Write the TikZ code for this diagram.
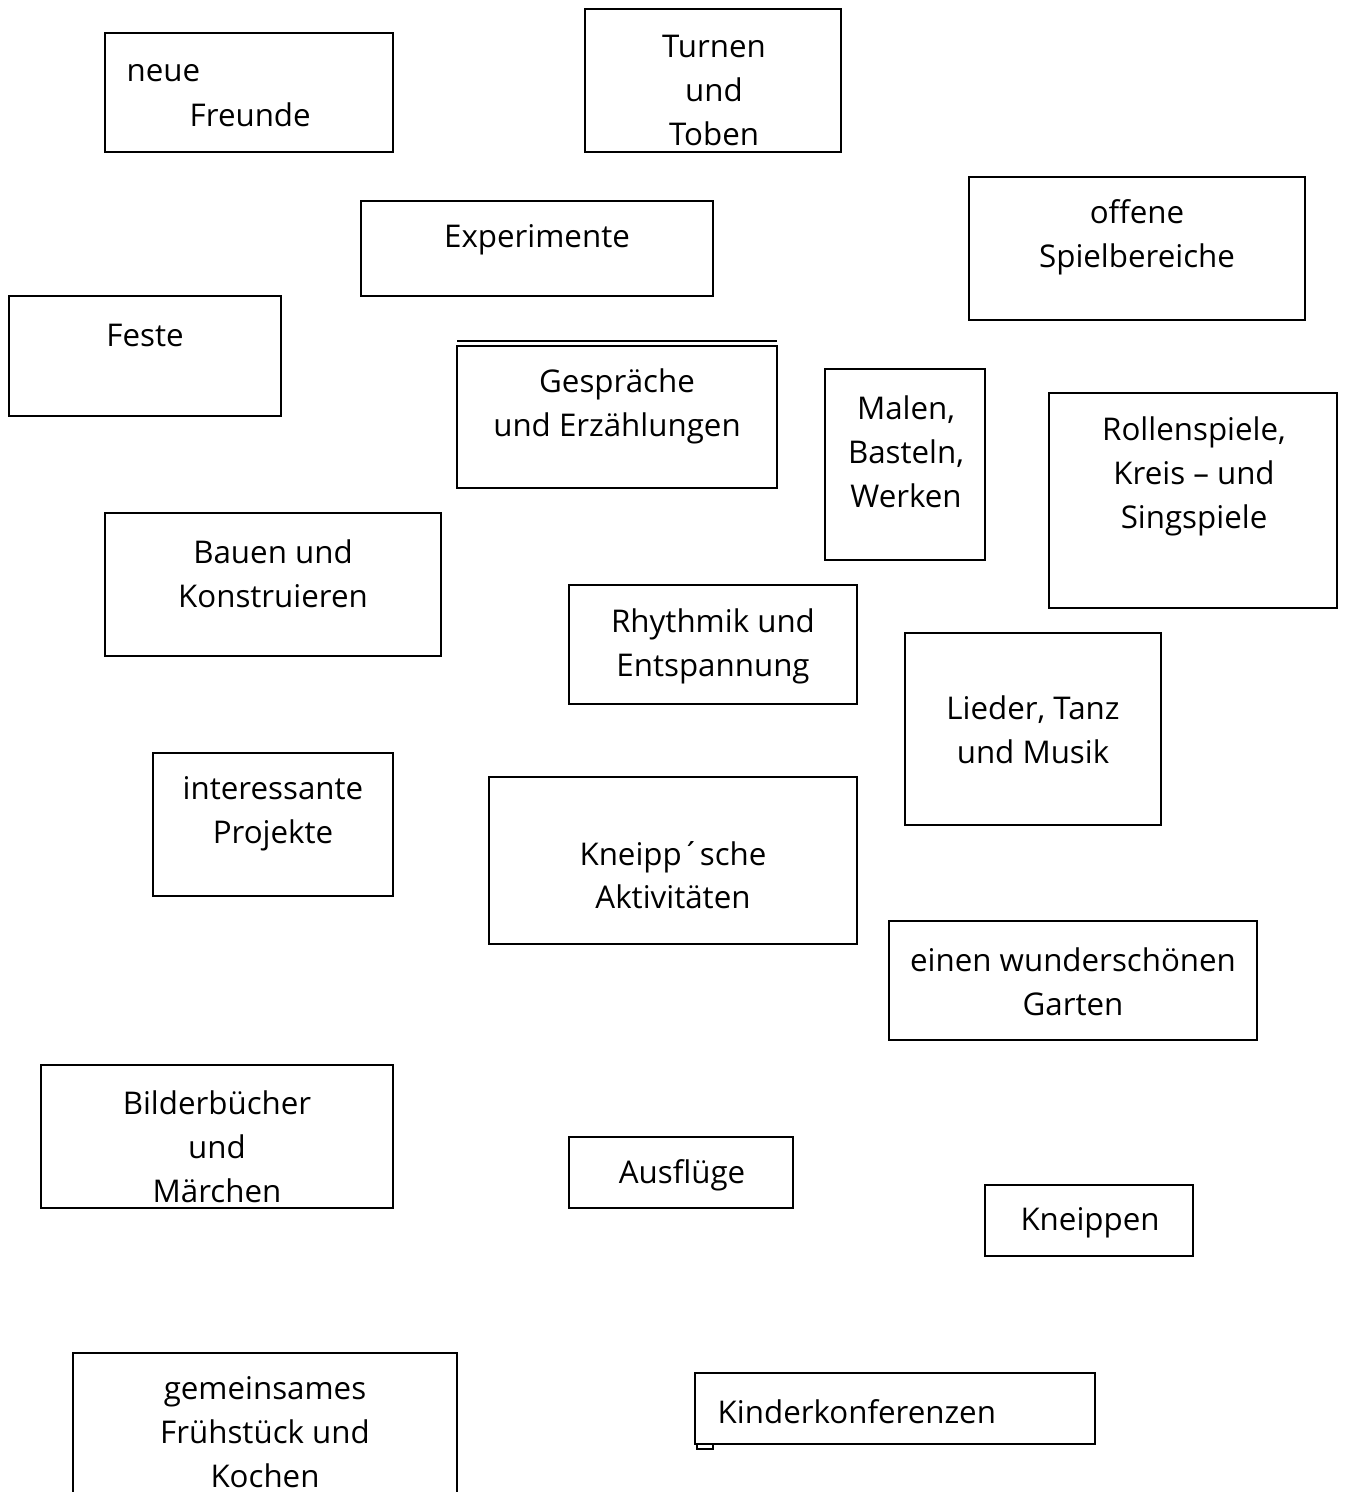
\documentclass[tikz,border=0pt]{standalone}
\usepackage{fontspec}
\setmainfont{Open Sans}
\usepackage{tikz}
\usetikzlibrary{positioning}
\begin{document}
\begin{tikzpicture}[x=0.01cm,y=-0.01cm,
    kasten/.style={line width=0.7pt},
    txt/.style={align=center, inner sep=0pt, yshift=-0.9pt, font=\fontsize{8.9}{12.5}\selectfont}]
                    \useasboundingbox (0,0) rectangle (1346,1492);
                    \fill[white] (0,0) rectangle (1346,1492);
                    \draw[kasten] (105,33) rectangle (393,152);
                    \node[txt,anchor=west] (neue) at (126,70) {neue};
                    \node[txt,anchor=west] (freunde) at (189,112) {Freunde};
                    \draw[kasten] (585,9) rectangle (841,152);
                    \node[txt] (turnen) at (714,87) {Turnen\\und\\Toben};
                    \draw[kasten] (361,201) rectangle (713,296);
                    \node[txt] (experimente) at (537,237) {Experimente};
                    \draw[kasten] (969,177) rectangle (1305,320);
                    \node[txt] (spielbereiche) at (1137,234) {offene\\Spielbereiche};
                    \draw[kasten] (9,296) rectangle (281,416);
                    \node[txt] (feste) at (145,332) {Feste};
                    \draw[kasten] (457,346) rectangle (777,488);
                    \draw[kasten] (457,341) -- (777,341);
                    \node[txt] (gespraeche) at (617,403) {Gespräche\\und Erzählungen};
                    \draw[kasten] (825,369) rectangle (985,560);
                    \node[txt] (malen) at (906,449) {Malen,\\Basteln,\\Werken};
                    \draw[kasten] (1049,393) rectangle (1337,608);
                    \node[txt] (rollenspiele) at (1194,473) {Rollenspiele,\\Kreis – und\\Singspiele};
                    \draw[kasten] (105,513) rectangle (441,656);
                    \node[txt] (bauen) at (273,571) {Bauen und\\Konstruieren};
                    \draw[kasten] (569,585) rectangle (857,704);
                    \node[txt] (rhythmik) at (713,643) {Rhythmik und\\Entspannung};
                    \draw[kasten] (905,633) rectangle (1161,825);
                    \node[txt] (lieder) at (1033,727) {Lieder, Tanz\\und Musik};
                    \draw[kasten] (153,753) rectangle (393,896);
                    \node[txt] (projekte) at (273,811) {interessante\\Projekte};
                    \draw[kasten] (489,777) rectangle (857,944);
                    \node[txt] (kneippsche) at (673,872) {Kneipp´sche\\Aktivitäten};
                    \draw[kasten] (889,921) rectangle (1257,1040);
                    \node[txt] (garten) at (1073,979) {einen wunderschönen\\Garten};
                    \draw[kasten] (41,1065) rectangle (393,1208);
                    \node[txt] (bilderbuecher) at (217,1144) {Bilderbücher\\und\\Märchen};
                    \draw[kasten] (569,1137) rectangle (793,1208);
                    \node[txt] (ausfluege) at (682,1172) {Ausflüge};
                    \draw[kasten] (985,1185) rectangle (1193,1256);
                    \node[txt] (kneippen) at (1090,1220) {Kneippen};
                    \draw[kasten] (73,1353) rectangle (457,1510);
                    \node[txt] (fruehstueck) at (265,1429) {gemeinsames\\Frühstück und\\Kochen};
                    \draw[kasten] (695,1373) rectangle (1095,1444);
                    \draw[kasten] (697,1444) rectangle (713,1449);
                    \node[txt,anchor=west] (kinderkonferenzen) at (717,1408) {Kinderkonferenzen};
                  \end{tikzpicture}
\end{document}
